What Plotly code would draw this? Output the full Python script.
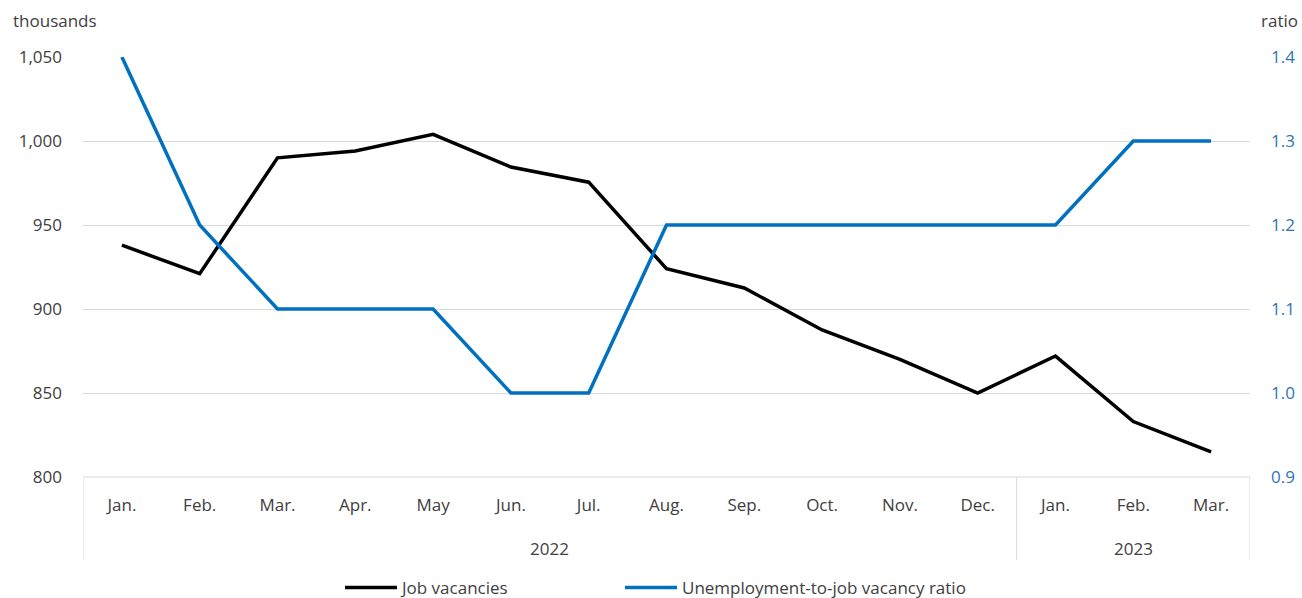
import plotly.graph_objects as go

months = ["Jan.", "Feb.", "Mar.", "Apr.", "May", "Jun.", "Jul.", "Aug.", "Sep.", "Oct.", "Nov.", "Dec.",
          "Jan.", "Feb.", "Mar."]
years = ["2022"] * 12 + ["2023"] * 3
job_vacancies = [938, 921, 990, 994, 1004, 984.5, 975.5, 924, 912.5, 887.5, 870, 850, 872, 833, 815]
ratio = [1.4, 1.2, 1.1, 1.1, 1.1, 1.0, 1.0, 1.2, 1.2, 1.2, 1.2, 1.2, 1.2, 1.3, 1.3]
left_ticks = [800, 850, 900, 950, 1000, 1050]
right_ticks = [0.9, 1.0, 1.1, 1.2, 1.3, 1.4]

FONT = "Open Sans"
FS = 17
DARK = "#404040"
BLUE = "#0070C0"
GRID = "#D9D9D9"

W, H = 1302, 598
ML, MR, MT, MB = 83, 52, 57, 121
PW, PH = W - ML - MR, H - MT - MB

x = list(range(len(months)))

fig = go.Figure()
fig.add_trace(go.Scatter(x=x, y=job_vacancies, name="Job vacancies", legend="legend",
                         mode="lines", line=dict(color="black", width=3.5), yaxis="y"))
fig.add_trace(go.Scatter(x=x, y=ratio, name="Unemployment-to-job vacancy ratio", legend="legend2",
                         mode="lines", line=dict(color=BLUE, width=3.5), yaxis="y2"))

# year groups
groups = []
start = 0
for i in range(1, len(years) + 1):
    if i == len(years) or years[i] != years[start]:
        groups.append((years[start], start, i - 1))
        start = i

shapes = []
annotations = []
bottom = -(560 - 477) / PH
edges = [-0.5] + [g[2] + 0.5 for g in groups]
for e in edges:
    shapes.append(dict(type="line", xref="x", yref="paper", x0=e, x1=e, y0=0, y1=bottom,
                       line=dict(color=GRID, width=1)))
shapes.append(dict(type="line", xref="paper", yref="paper", x0=0, x1=1, y0=0, y1=0,
                   line=dict(color=GRID, width=1)))
for name, a, b in groups:
    annotations.append(dict(text=name, xref="x", yref="paper", x=(a + b) / 2, y=-(548 - 477) / PH,
                            xanchor="center", yanchor="middle", showarrow=False,
                            font=dict(size=FS, color=DARK)))

annotations.append(dict(text="thousands", xref="paper", yref="paper", x=-(ML - 11) / PW, y=1 + (57 - 20) / PH,
                        xanchor="left", yanchor="middle", showarrow=False, font=dict(size=FS, color=DARK)))
annotations.append(dict(text="ratio", xref="paper", yref="paper", x=1 + (1300 - 1250) / PW, y=1 + (57 - 20) / PH,
                        xanchor="right", yanchor="middle", showarrow=False, font=dict(size=FS, color=DARK)))

legend_common = dict(orientation="h", xanchor="left", yref="container", y=1 - 588 / H, yanchor="middle",
                     font=dict(size=FS, color=DARK), itemwidth=52, bgcolor="rgba(0,0,0,0)")

fig.update_layout(
    width=W, height=H,
    margin=dict(l=ML, r=MR, t=MT, b=MB, autoexpand=False),
    paper_bgcolor="white", plot_bgcolor="white",
    font=dict(family=FONT, size=FS, color=DARK),
    showlegend=True,
    legend=dict(x=(345 - ML - 5) / PW, **legend_common),
    legend2=dict(x=(625 - ML - 5) / PW, **legend_common),
    xaxis=dict(range=[-0.5, len(months) - 0.5], tickmode="array", tickvals=x, ticktext=months,
               showgrid=False, showline=False, zeroline=False, ticks="", ticklabelstandoff=16,
               tickfont=dict(size=FS, color=DARK), fixedrange=True),
    yaxis=dict(range=[800, 1050], tickmode="array", tickvals=left_ticks, tickformat=",",
               showgrid=True, gridcolor=GRID, gridwidth=1, zeroline=False, showline=False,
               ticks="", ticklabelstandoff=20, tickfont=dict(size=FS, color=DARK)),
    yaxis2=dict(range=[0.9, 1.4], tickmode="array", tickvals=right_ticks, tickformat=".1f",
                overlaying="y", side="right", showgrid=False, zeroline=False, showline=False,
                ticks="", ticklabelstandoff=20, tickfont=dict(size=FS, color="#2E75B6")),
    shapes=shapes,
    annotations=annotations,
)
fig.write_html("out.html")
